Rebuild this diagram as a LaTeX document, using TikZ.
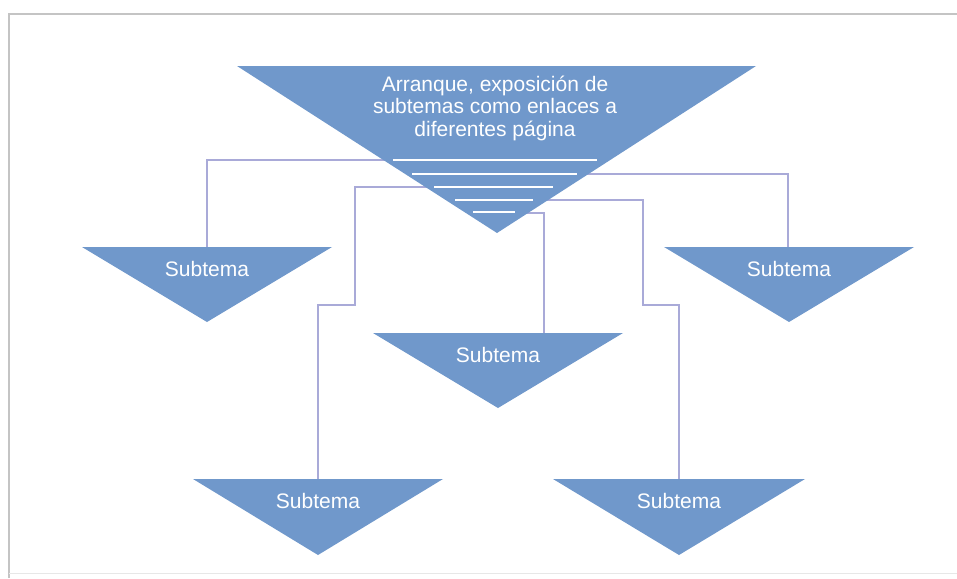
\documentclass[tikz,border=0pt]{standalone}
\usepackage{fontspec}
\setmainfont{Liberation Sans}
\usepackage{tikz}
\usetikzlibrary{calc}
\definecolor{temaBlue}{HTML}{7098CB}
\definecolor{linkLila}{HTML}{A9AAD8}
\definecolor{frameGray}{HTML}{C4C4C4}

\begin{document}
\begin{tikzpicture}[x=1pt, y=-1pt,
    link/.style={draw=linkLila, line width=2pt},
    rayita/.style={draw=white, line width=2pt},
    subtri/.style={fill=temaBlue},
    subtxt/.style={text=white, inner sep=0pt, font=\fontsize{21}{23}\selectfont},
    tematxt/.style={text=white, align=center, inner sep=0pt, font=\fontsize{21}{22.5}\selectfont}]
  \useasboundingbox (0,0) rectangle (957,578);

  % marco
  \draw[frameGray, line width=1.5pt] (9,578) -- (9,14) -- (957,14);
  \draw[frameGray!40, line width=1pt] (9,573) -- (957,573);

  % niveles dentro del triangulo principal
  \coordinate (lv1) at (497,160);
  \coordinate (lv2) at (497,174);
  \coordinate (lv3) at (497,187);
  \coordinate (lv4) at (497,200);
  \coordinate (lv5) at (497,213);

  % llegadas y quiebres
  \coordinate (st1) at (207,247);
  \coordinate (st2) at (788,247);
  \coordinate (st3) at (544,333);
  \coordinate (st4) at (318,479);
  \coordinate (st5) at (679,479);
  \coordinate (bendA) at (355,305);
  \coordinate (bendB) at (643,305);

  \draw[link] (lv1) -| (st1);
  \draw[link] (lv2) -| (st2);
  \draw[link] (lv3) -| (bendA) -| (st4);
  \draw[link] (lv4) -| (bendB) -| (st5);
  \draw[link] (lv5) -| (st3);

  % triangulo principal
  \fill[temaBlue] (237,66) -- (756,66) -- (497,233) -- cycle;
  \draw[rayita] (393,160) -- (597,160);
  \draw[rayita] (412,174) -- (577,174);
  \draw[rayita] (434,187) -- (553,187);
  \draw[rayita] (455,200) -- (533,200);
  \draw[rayita] (473,212) -- (515,212);
  \node[tematxt] (tema) at (495,108) {Arranque, exposición de\\subtemas como enlaces a\\diferentes página};

  % subtemas
  \fill[subtri] (82,247) -- (332,247) -- (207,322) -- cycle;
  \fill[subtri] (664,247) -- (914,247) -- (789,322) -- cycle;
  \fill[subtri] (373,333) -- (623,333) -- (498,408) -- cycle;
  \fill[subtri] (193,479) -- (443,479) -- (318,555) -- cycle;
  \fill[subtri] (553,479) -- (805,479) -- (679,555) -- cycle;

  \node[subtxt] (sub1) at (207,269) {Subtema};
  \node[subtxt] (sub2) at (789,269) {Subtema};
  \node[subtxt] (sub3) at (498,355) {Subtema};
  \node[subtxt] (sub4) at (318,501) {Subtema};
  \node[subtxt] (sub5) at (679,501) {Subtema};

\end{tikzpicture}
\end{document}
